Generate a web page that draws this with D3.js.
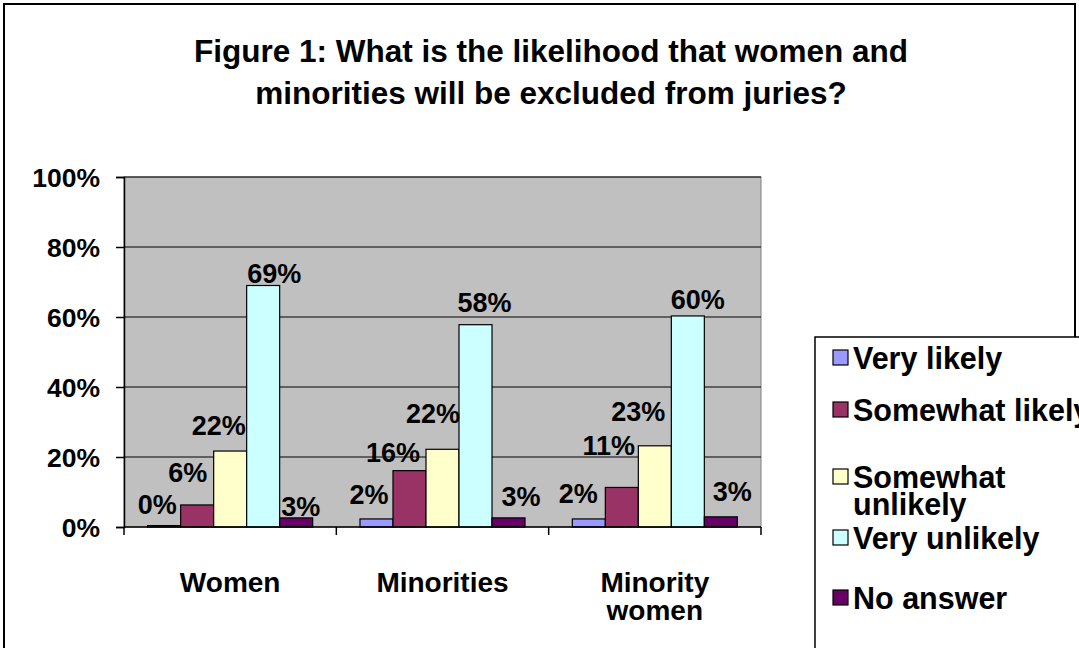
<!DOCTYPE html>
<html>
<head>
<meta charset="utf-8">
<script src="https://cdn.jsdelivr.net/npm/d3@7"></script>
<style>
  html, body { margin: 0; padding: 0; background: #fff; }
  svg { display: block; }
  text { font-family: "Liberation Sans", Arial, sans-serif; font-weight: bold; fill: #000; }
</style>
</head>
<body>
<svg id="chart" width="1079" height="648"></svg>
<script>
// ---- data ----
const titleLines = ["Figure 1: What is the likelihood that women and", "minorities will be excluded from juries?"];
const categories = ["Women", "Minorities", "Minority women"];
const categoryLines = [["Women"], ["Minorities"], ["Minority", "women"]];
const seriesNames = ["Very likely", "Somewhat likely", "Somewhat unlikely", "Very unlikely", "No answer"];
const legendLines = [["Very likely"], ["Somewhat likely"], ["Somewhat", "unlikely"], ["Very unlikely"], ["No answer"]];
const veryLikely      = [0.004, 0.023, 0.023];
const somewhatLikely  = [0.063, 0.161, 0.113];
const somewhatUnlikely= [0.217, 0.222, 0.232];
const veryUnlikely    = [0.690, 0.578, 0.603];
const noAnswer        = [0.026, 0.026, 0.029];
const seriesValues = [veryLikely, somewhatLikely, somewhatUnlikely, veryUnlikely, noAnswer];
const yTicks = [0, 0.2, 0.4, 0.6, 0.8, 1.0];

// ---- style / layout ----
const colors = ["#9999FF", "#993366", "#FFFFCC", "#CCFFFF", "#660066"];
// label nudges (dx, dy) relative to bar centre / bar top, mimicking the original placement
const labelNudge = [
  [[-7,-12],[-9.5,-23],[-11.5,-16],[11,-3],[4.5,-2]],
  [[-7.5,-15],[-16.5,-9],[-9.5,-26],[9,-13],[12.5,-12]],
  [[-10.5,-16],[-13,-32],[-16.5,-25],[10,-7],[11.5,-16]]
];
const plot = {x0: 124, x1: 761, y0: 177, y1: 527};

const svg = d3.select("#chart");

// outer border
svg.append("rect").attr("x", 4).attr("y", 4).attr("width", 1071).attr("height", 700)
  .attr("fill", "#fff").attr("stroke", "#000").attr("stroke-width", 2);

// title
svg.append("g").selectAll("text").data(titleLines).join("text")
  .attr("x", 551).attr("y", (d, i) => 62 + i * 42)
  .attr("text-anchor", "middle").attr("font-size", 31.5).text(d => d);

const x = d3.scaleBand().domain(categories).range([plot.x0, plot.x1]).paddingInner(0).paddingOuter(0);
const xs = d3.scaleBand().domain(d3.range(seriesNames.length)).range([0, x.bandwidth()]).paddingInner(0).paddingOuter(0.717);
const y = d3.scaleLinear().domain([0, 1]).range([plot.y1, plot.y0]);

// plot area
svg.append("rect").attr("x", plot.x0).attr("y", plot.y0).attr("width", plot.x1 - plot.x0).attr("height", plot.y1 - plot.y0)
  .attr("fill", "#C0C0C0").attr("stroke", "#808080").attr("stroke-width", 1);

// gridlines
svg.append("g").selectAll("line").data(yTicks.filter(t => t > 0)).join("line")
  .attr("x1", plot.x0).attr("x2", plot.x1).attr("y1", d => y(d)).attr("y2", d => y(d))
  .attr("stroke", "#000").attr("stroke-width", 1);

// y axis
const yAxis = d3.axisLeft(y).tickValues(yTicks).tickFormat(d3.format(".0%")).tickSize(8).tickPadding(16);
const gy = svg.append("g").attr("transform", `translate(${plot.x0},0)`).call(yAxis);
gy.select(".domain").attr("stroke", "#000").attr("stroke-width", 1.5);
gy.selectAll(".tick line").attr("stroke", "#000").attr("stroke-width", 1.5);
gy.selectAll(".tick text").attr("font-size", 26.5).attr("font-family", null).attr("dy", "0.36em");

// bars
const groups = svg.append("g").selectAll("g").data(categories).join("g")
  .attr("transform", d => `translate(${x(d)},0)`);
groups.each(function(cat, ci) {
  const g = d3.select(this);
  const vals = seriesValues.map((s, si) => ({si, v: s[ci]}));
  g.selectAll("rect").data(vals).join("rect")
    .attr("x", d => xs(d.si)).attr("width", xs.bandwidth())
    .attr("y", d => y(d.v)).attr("height", d => y(0) - y(d.v))
    .attr("fill", d => colors[d.si]).attr("stroke", "#000").attr("stroke-width", 1.2);
  g.selectAll("text.lbl").data(vals).join("text").attr("class", "lbl")
    .attr("x", d => xs(d.si) + xs.bandwidth() / 2 + labelNudge[ci][d.si][0])
    .attr("y", d => y(d.v) + labelNudge[ci][d.si][1])
    .attr("text-anchor", "middle").attr("font-size", 27)
    .text(d => d3.format(".0%")(d.v));
});

// x axis
svg.append("line").attr("x1", plot.x0).attr("x2", plot.x1).attr("y1", plot.y1).attr("y2", plot.y1)
  .attr("stroke", "#000").attr("stroke-width", 1.5);
const bounds = categories.map(c => x(c)).concat([plot.x1]);
svg.append("g").selectAll("line").data(bounds).join("line")
  .attr("x1", d => d).attr("x2", d => d).attr("y1", plot.y1).attr("y2", plot.y1 + 8)
  .attr("stroke", "#000").attr("stroke-width", 1.5);
const xl = svg.append("g").selectAll("text").data(categories).join("text")
  .attr("x", d => x(d) + x.bandwidth() / 2).attr("y", 592)
  .attr("text-anchor", "middle").attr("font-size", 28);
xl.selectAll("tspan").data((d, i) => categoryLines[i]).join("tspan")
  .attr("x", function() { return d3.select(this.parentNode).attr("x"); })
  .attr("dy", (d, i) => i === 0 ? 0 : 28).text(d => d);

// legend
svg.append("rect").attr("x", 815).attr("y", 337).attr("width", 400).attr("height", 400)
  .attr("fill", "#fff").attr("stroke", "#000").attr("stroke-width", 1.5);
const legBase = [369, 421, 488, 549, 609];
const lg = svg.append("g").selectAll("g").data(seriesNames).join("g");
lg.append("rect").attr("x", 833).attr("y", (d, i) => legBase[i] - 19).attr("width", 15).attr("height", 15)
  .attr("fill", (d, i) => colors[i]).attr("stroke", "#000").attr("stroke-width", 1.2);
const lt = lg.append("text").attr("x", 853).attr("y", (d, i) => legBase[i]).attr("font-size", 30.5);
lt.selectAll("tspan").data((d, i) => legendLines[i]).join("tspan")
  .attr("x", 853).attr("dy", (d, i) => i === 0 ? 0 : 27).text(d => d);
</script>
</body>
</html>
